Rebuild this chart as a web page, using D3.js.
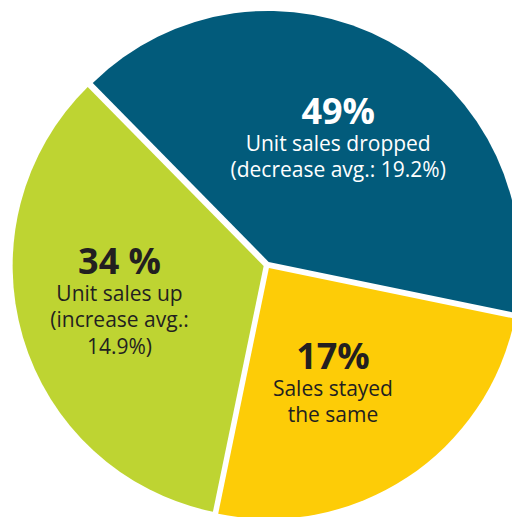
<!DOCTYPE html>
<html>
<head>
    <meta charset="UTF-8">
    <style>
        body { margin: 0; background: #fff; }
        text { font-family: "Open Sans", sans-serif; }
        .head { font-weight: 700; font-size: 36px; }
        .body { font-size: 21px; }
    </style>
</head>
<body>
    <script src="https://cdn.jsdelivr.net/npm/d3@7"></script>
    <script>
// data (slice sizes as drawn, labels as printed)
var categories = ["dropped", "same", "up"];
var sliceShares = [40.6, 25.0, 34.4];
var percentLabels = ["49%", "17%", "34 %"];
var descLines = [
    ["Unit sales dropped", "(decrease avg.: 19.2%)"],
    ["Sales stayed", "the same"],
    ["Unit sales up", "(increase avg.:", "14.9%)"]
];
var colors = ["#025b7b", "#fdcc07", "#bed432"];
var textColors = ["#ffffff", "#231f20", "#231f20"];

var width = 512, height = 517;
var cx = 267, cy = 265, radius = 251, explode = 3.5;
var deg = Math.PI / 180;
// label anchor per slice: [angle in degrees, distance from centre]
var labelAt = [[29.4, 145], [151, 136], [256, 152]];

var svg = d3.select("body").append("svg")
    .attr("width", width).attr("height", height);

var pie = d3.pie().sort(null)
    .startAngle(-44.5 * deg)
    .endAngle(-44.5 * deg + 2 * Math.PI);
var arc = d3.arc().innerRadius(0).outerRadius(radius);

var arcs = pie(sliceShares);

var g = svg.append("g").attr("transform", "translate(" + cx + "," + cy + ")");

g.selectAll("path.slice")
    .data(arcs)
    .enter().append("path")
    .attr("class", "slice")
    .attr("d", arc)
    .attr("fill", function(d, i) { return colors[i]; })
    .attr("transform", function(d) {
        var a = (d.startAngle + d.endAngle) / 2;
        return "translate(" + (Math.sin(a) * explode) + "," + (-Math.cos(a) * explode) + ")";
    });

var labels = g.selectAll("g.label")
    .data(arcs)
    .enter().append("g")
    .attr("class", "label")
    .attr("transform", function(d, i) {
        var a = labelAt[i][0] * deg, r = labelAt[i][1];
        return "translate(" + (Math.sin(a) * r) + "," + (-Math.cos(a) * r) + ")";
    });

labels.each(function(d, i) {
    var lines = [percentLabels[i]].concat(descLines[i]);
    var n = lines.length, step = 26.5;
    d3.select(this).selectAll("text")
        .data(lines)
        .enter().append("text")
        .attr("class", function(t, j) { return j === 0 ? "head" : "body"; })
        .attr("text-anchor", "middle")
        .attr("x", 0)
        .attr("y", function(t, j) { return (j - (n - 1) / 2) * step + 12; })
        .attr("fill", textColors[i])
        .text(function(t) { return t; });
});
</script>
</body>
</html>
